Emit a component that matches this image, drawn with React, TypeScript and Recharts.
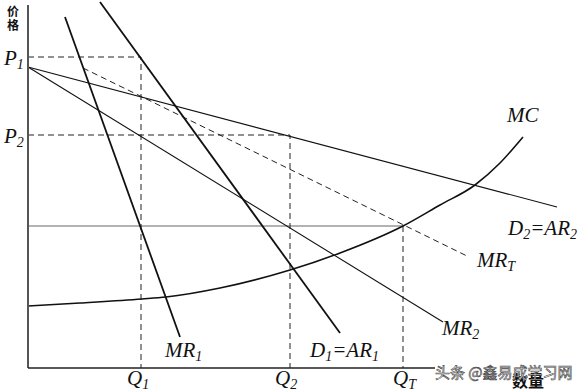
import { LineChart, Line, XAxis, YAxis, ReferenceDot } from 'recharts'

// quantity (q) and price (p) in chart units, origin at the axes corner
const yAxisLine = [{ q: 0, p: 0 }, { q: 0, p: 36.3 }]
const xAxisLine = [{ q: 0, p: 0 }, { q: 40.7, p: 0 }]

const d2Line = [{ q: 0, p: 30.1 }, { q: 52.9, p: 16.1 }]
const mr2Line = [{ q: 0, p: 30.1 }, { q: 41.5, p: 4.6 }]
const mrTLine = [{ q: 5.5, p: 30.0 }, { q: 43.9, p: 11.2 }]
const mr1Line = [{ q: 3.7, p: 35.1 }, { q: 15.2, p: 3.1 }]
const d1Line = [{ q: 7.2, p: 36.6 }, { q: 31.2, p: 3.5 }]
const mcCurve = [
  { q: 0, p: 6.2 }, { q: 5.2, p: 6.5 }, { q: 11.4, p: 6.9 }, { q: 13.8, p: 7.1 },
  { q: 19.2, p: 8.0 }, { q: 26.2, p: 9.8 }, { q: 31.2, p: 11.5 }, { q: 37.5, p: 14.2 },
  { q: 41.2, p: 16.3 }, { q: 44.7, p: 18.3 }, { q: 47.2, p: 20.5 }, { q: 49.5, p: 23.1 },
]

const P1 = 31.1
const P2 = 23.3
const PT = 14.2
const Q1 = 11.3
const Q2 = 26.2
const QT = 37.5

const p1Guide = [{ q: 0, p: P1 }, { q: Q1, p: P1 }, { q: Q1, p: 0 }]
const p2Guide = [{ q: 0, p: P2 }, { q: Q2, p: P2 }, { q: Q2, p: 0 }]
const qTGuide = [{ q: QT, p: PT }, { q: QT, p: 0 }]
const ptLine = [{ q: 0, p: PT }, { q: QT, p: PT }]

const SERIF = 'Liberation Serif, Times New Roman, serif'
const CJK = 'Noto Sans CJK SC, sans-serif'

type Part = [string, string?]
const labels: { q: number; p: number; parts: Part[] }[] = [
  { q: -2.4, p: 30.3, parts: [['P', '1']] },
  { q: -2.4, p: 22.5, parts: [['P', '2']] },
  { q: 9.9, p: -1.7, parts: [['Q', '1']] },
  { q: 24.7, p: -1.7, parts: [['Q', '2']] },
  { q: 36.5, p: -1.7, parts: [['Q', 'T']] },
  { q: 13.7, p: 1.1, parts: [['MR', '1']] },
  { q: 28.2, p: 1.1, parts: [['D', '1'], ['=AR', '1']] },
  { q: 41.4, p: 3.3, parts: [['MR', '2']] },
  { q: 44.9, p: 10.1, parts: [['MR', 'T']] },
  { q: 48.0, p: 13.3, parts: [['D', '2'], ['=AR', '2']] },
  { q: 47.9, p: 24.6, parts: [['MC']] },
]

function MathLabel({ cx, cy, parts }: { cx?: number; cy?: number; parts: Part[] }) {
  const spans: JSX.Element[] = []
  parts.forEach(([main, sub], i) => {
    spans.push(<tspan key={`m${i}`} dy={i > 0 && parts[i - 1][1] ? -4 : 0}>{main}</tspan>)
    if (sub) spans.push(<tspan key={`s${i}`} fontSize={14} dy={4}>{sub}</tspan>)
  })
  return (
    <text x={cx} y={cy} style={{ fontFamily: SERIF, fontStyle: 'italic', fontSize: 21 }} fill="#111">
      {spans}
    </text>
  )
}

function CjkLabel({ cx, cy, text, size, fill, anchor }: any) {
  return (
    <text x={cx} y={cy} style={{ fontFamily: CJK, fontSize: size, fontWeight: 700 }} fill={fill} textAnchor={anchor}>
      {text}
    </text>
  )
}

const lineProps = { dataKey: 'p', dot: false, activeDot: false, isAnimationActive: false, type: 'linear' as const }

export default function App() {
  return (
    <div style={{ position: 'absolute', left: 0, top: 0, background: '#fff' }}>
      <LineChart width={583} height={391} margin={{ top: 0, right: 0, bottom: 0, left: 0 }}>
        <XAxis dataKey="q" type="number" domain={[-2.8, 55.5]} allowDataOverflow hide />
        <YAxis type="number" domain={[-2.3, 36.8]} allowDataOverflow hide />

        <Line {...lineProps} data={ptLine} stroke="#666" strokeWidth={1} />
        <Line {...lineProps} data={p1Guide} stroke="#222" strokeWidth={1} strokeDasharray="6 4" />
        <Line {...lineProps} data={p2Guide} stroke="#222" strokeWidth={1} strokeDasharray="6 4" />
        <Line {...lineProps} data={qTGuide} stroke="#222" strokeWidth={1} strokeDasharray="6 4" />

        <Line {...lineProps} data={d2Line} stroke="#111" strokeWidth={1.1} />
        <Line {...lineProps} data={mr2Line} stroke="#111" strokeWidth={1.1} />
        <Line {...lineProps} data={mrTLine} stroke="#222" strokeWidth={1} strokeDasharray="6 4" />
        <Line {...lineProps} data={mr1Line} stroke="#111" strokeWidth={1.8} />
        <Line {...lineProps} data={d1Line} stroke="#111" strokeWidth={1.8} />
        <Line {...lineProps} data={mcCurve} type="monotone" stroke="#111" strokeWidth={1.6} />

        <Line {...lineProps} data={yAxisLine} stroke="#555" strokeWidth={2} />
        <Line {...lineProps} data={xAxisLine} stroke="#222" strokeWidth={1.3} />

        {labels.map((l, i) => (
          <ReferenceDot key={i} x={l.q} y={l.p} r={0} shape={(props: any) => <MathLabel {...props} parts={l.parts} />} />
        ))}
        <ReferenceDot x={-1.5} y={36.3} r={0} shape={(props: any) => (
          <text x={props.cx} y={props.cy} fill="#111"
            style={{ fontFamily: CJK, fontSize: 12, fontWeight: 700, writingMode: 'vertical-rl', letterSpacing: 2 }}>
            价格
          </text>
        )} />
        <ReferenceDot x={48.4} y={-1.9} r={0} shape={(props: any) => <CjkLabel {...props} text="数量" size={16} fill="#111" anchor="start" />} />
        <ReferenceDot x={40.7} y={-1.0} r={0} shape={(props: any) => (
          <text x={props.cx} y={props.cy} style={{ fontFamily: CJK, fontSize: 15 }} fill="#f4f4f4" stroke="#444" strokeWidth={0.6}>
            头条 @鑫易成学习网
          </text>
        )} />
      </LineChart>
    </div>
  )
}
